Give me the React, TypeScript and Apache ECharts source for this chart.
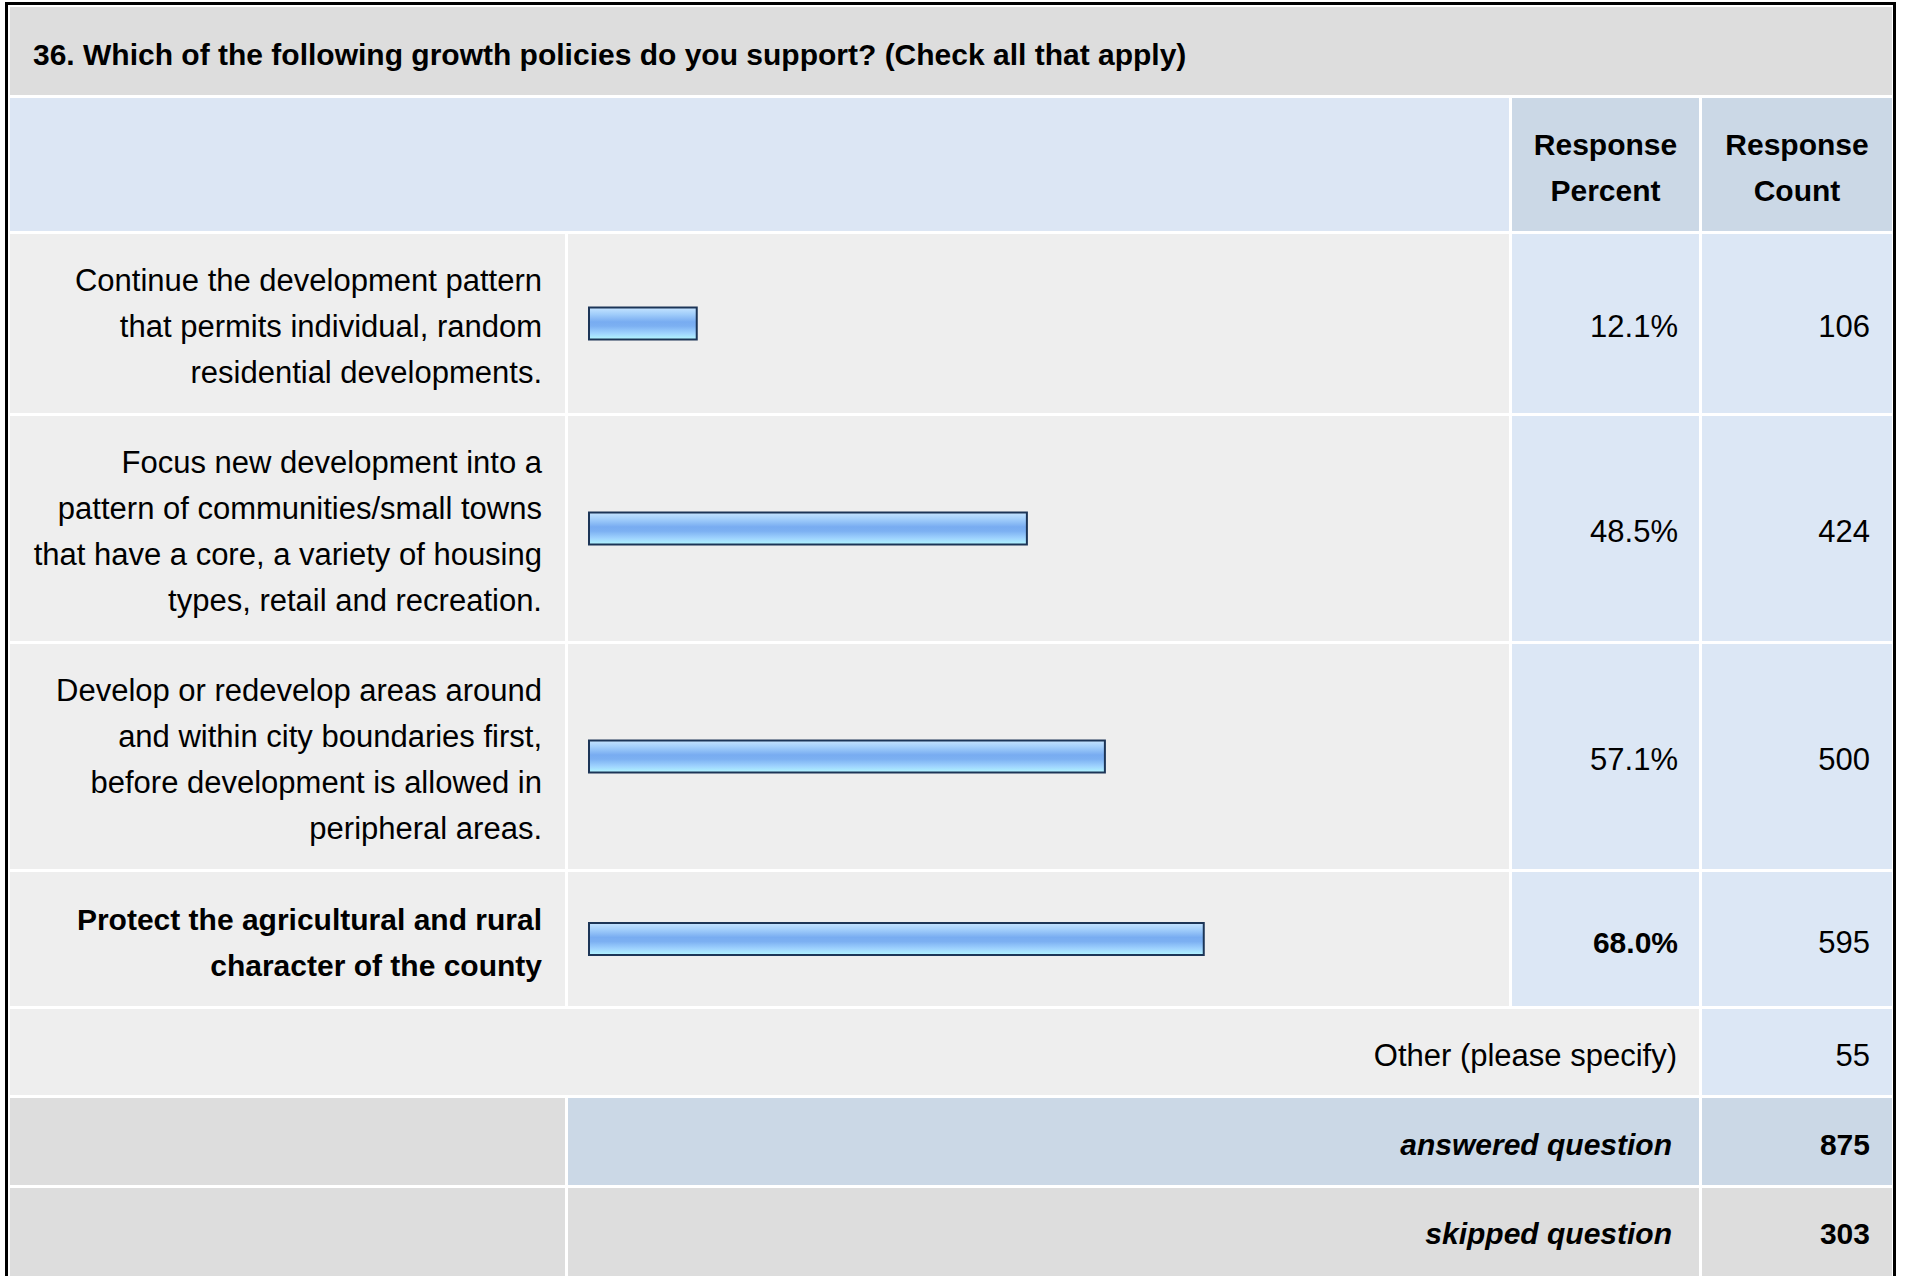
import React, { useEffect, useRef } from "react";
import * as echarts from "echarts";

// ---- Data ----
const title = "36. Which of the following growth policies do you support? (Check all that apply)";
const categories = [
  "Continue the development pattern\nthat permits individual, random\nresidential developments.",
  "Focus new development into a\npattern of communities/small towns\nthat have a core, a variety of housing\ntypes, retail and recreation.",
  "Develop or redevelop areas around\nand within city boundaries first,\nbefore development is allowed in\nperipheral areas.",
  "Protect the agricultural and rural\ncharacter of the county",
];
const percents = [12.1, 48.5, 57.1, 68.0];
const counts = [106, 424, 500, 595];
const headerPercent = "Response\nPercent";
const headerCount = "Response\nCount";
const otherLabel = "Other (please specify)";
const otherCount = 55;
const answeredLabel = "answered question";
const answeredCount = 875;
const skippedLabel = "skipped question";
const skippedCount = 303;

// ---- Layout (pixels) ----
const FONT = "'Liberation Sans', Arial, Helvetica, sans-serif";
const colL = [10, 565];
const colBar = [568, 1509];
const colPct = [1512, 1699];
const colCnt = [1702, 1892];
const rowTop = [234, 416, 644, 872];
const rowBot = [413, 641, 869, 1006];
const BAR_LEFT = 588;
const BAR_FULL = 907;
const BAR_H = 36;

const C_TITLE = "#dddddd";
const C_HEAD = "#dce6f4";
const C_HEADCELL = "#cbd8e6";
const C_ROW = "#eeeeee";
const C_VAL = "#dce7f5";
const C_ANS = "#cbd8e6";
const C_SKIP = "#dddddd";

function rect(x1: number, x2: number, y1: number, y2: number, fill: string) {
  return {
    type: "rect",
    silent: true,
    shape: { x: x1, y: y1, width: x2 - x1, height: y2 - y1 },
    style: { fill },
  };
}

function txt(
  text: string,
  x: number,
  y: number,
  align: string,
  opts: { bold?: boolean; italic?: boolean; size?: number } = {}
) {
  return {
    type: "text",
    silent: true,
    x,
    y,
    z: 10,
    style: {
      text,
      fill: "#000000",
      fontFamily: FONT,
      fontSize: opts.size ?? 31,
      fontWeight: opts.bold ? "bold" : "normal",
      fontStyle: opts.italic ? "italic" : "normal",
      align,
      verticalAlign: "middle",
      lineHeight: 46,
    },
  };
}

export default function App() {
  const ref = useRef<HTMLDivElement>(null);

  useEffect(() => {
    if (!ref.current) return;
    const chart = echarts.init(ref.current, null, { renderer: "svg" });
    const maxIdx = percents.indexOf(Math.max(...percents));
    const DY = 3;

    const graphics: any[] = [];
    // title
    graphics.push(rect(colL[0], colCnt[1], 7, 95, C_TITLE));
    graphics.push(txt(title, 33, 51 + DY, "left", { bold: true, size: 30 }));
    // header
    graphics.push(rect(colL[0], colBar[1], 98, 231, C_HEAD));
    graphics.push(rect(colPct[0], colPct[1], 98, 231, C_HEADCELL));
    graphics.push(rect(colCnt[0], colCnt[1], 98, 231, C_HEADCELL));
    graphics.push(txt(headerPercent, (colPct[0] + colPct[1]) / 2, 164.5 + DY, "center", { bold: true, size: 30 }));
    graphics.push(txt(headerCount, (colCnt[0] + colCnt[1]) / 2, 164.5 + DY, "center", { bold: true, size: 30 }));

    // answer rows
    categories.forEach((cat, i) => {
      const t = rowTop[i];
      const b = rowBot[i];
      const cy = (t + b) / 2 + DY;
      const bold = i === maxIdx;
      graphics.push(rect(colL[0], colL[1], t, b, C_ROW));
      graphics.push(rect(colBar[0], colBar[1], t, b, C_ROW));
      graphics.push(rect(colPct[0], colPct[1], t, b, C_VAL));
      graphics.push(rect(colCnt[0], colCnt[1], t, b, C_VAL));
      graphics.push(txt(cat, 542, cy, "right", { bold, size: bold ? 30 : 31 }));
      graphics.push(txt(percents[i].toFixed(1) + "%", 1678, cy, "right", { bold, size: bold ? 30 : 31 }));
      graphics.push(txt(String(counts[i]), 1870, cy, "right"));
    });

    // other row
    graphics.push(rect(colL[0], colPct[1], 1009, 1095, C_ROW));
    graphics.push(rect(colCnt[0], colCnt[1], 1009, 1095, C_VAL));
    graphics.push(txt(otherLabel, 1677, 1052 + DY, "right"));
    graphics.push(txt(String(otherCount), 1870, 1052 + DY, "right"));

    // answered row
    graphics.push(rect(colL[0], colL[1], 1098, 1185, C_SKIP));
    graphics.push(rect(colBar[0], colPct[1], 1098, 1185, C_ANS));
    graphics.push(rect(colCnt[0], colCnt[1], 1098, 1185, C_ANS));
    graphics.push(txt(answeredLabel, 1672, 1141.5 + DY, "right", { bold: true, italic: true, size: 30 }));
    graphics.push(txt(String(answeredCount), 1870, 1141.5 + DY, "right", { bold: true, size: 30 }));

    // skipped row
    graphics.push(rect(colL[0], colL[1], 1188, 1300, C_SKIP));
    graphics.push(rect(colBar[0], colPct[1], 1188, 1300, C_SKIP));
    graphics.push(rect(colCnt[0], colCnt[1], 1188, 1300, C_SKIP));
    graphics.push(txt(skippedLabel, 1672, 1230 + DY, "right", { bold: true, italic: true, size: 30 }));
    graphics.push(txt(String(skippedCount), 1870, 1230 + DY, "right", { bold: true, size: 30 }));

    // outer border
    graphics.push({
      type: "rect",
      silent: true,
      z: 20,
      shape: { x: 6.5, y: 3.5, width: 1888, height: 1400 },
      style: { fill: "none", stroke: "#000000", lineWidth: 3 },
    });

    const barGradient = new echarts.graphic.LinearGradient(0, 0, 0, 1, [
      { offset: 0, color: "#c6e4ff" },
      { offset: 0.2, color: "#a3cffb" },
      { offset: 0.45, color: "#78acf1" },
      { offset: 0.58, color: "#7cb0f2" },
      { offset: 0.8, color: "#9ed2fe" },
      { offset: 1, color: "#b3f7ff" },
    ]);

    const grids = percents.map((_, i) => ({
      left: BAR_LEFT,
      width: BAR_FULL,
      top: (rowTop[i] + rowBot[i]) / 2 - BAR_H / 2,
      height: BAR_H,
      containLabel: false,
    }));
    const xAxes = percents.map((_, i) => ({
      gridIndex: i,
      type: "value",
      min: 0,
      max: 100,
      show: false,
    }));
    const yAxes = percents.map((_, i) => ({
      gridIndex: i,
      type: "category",
      data: [categories[i]],
      show: false,
    }));
    const series = percents.map((p, i) => ({
      type: "bar",
      xAxisIndex: i,
      yAxisIndex: i,
      data: [p],
      barWidth: BAR_H - 2,
      z: 5,
      silent: true,
      itemStyle: {
        color: barGradient,
        borderColor: "#1c3557",
        borderWidth: 2,
      },
    }));

    chart.setOption({
      animation: false,
      backgroundColor: "#ffffff",
      tooltip: { show: false },
      grid: grids,
      xAxis: xAxes,
      yAxis: yAxes,
      series,
      graphic: { elements: graphics },
    });

    return () => chart.dispose();
  }, []);

  return (
    <div
      ref={ref}
      style={{ position: "absolute", left: 0, top: 0, width: 1911, height: 1276 }}
    />
  );
}
